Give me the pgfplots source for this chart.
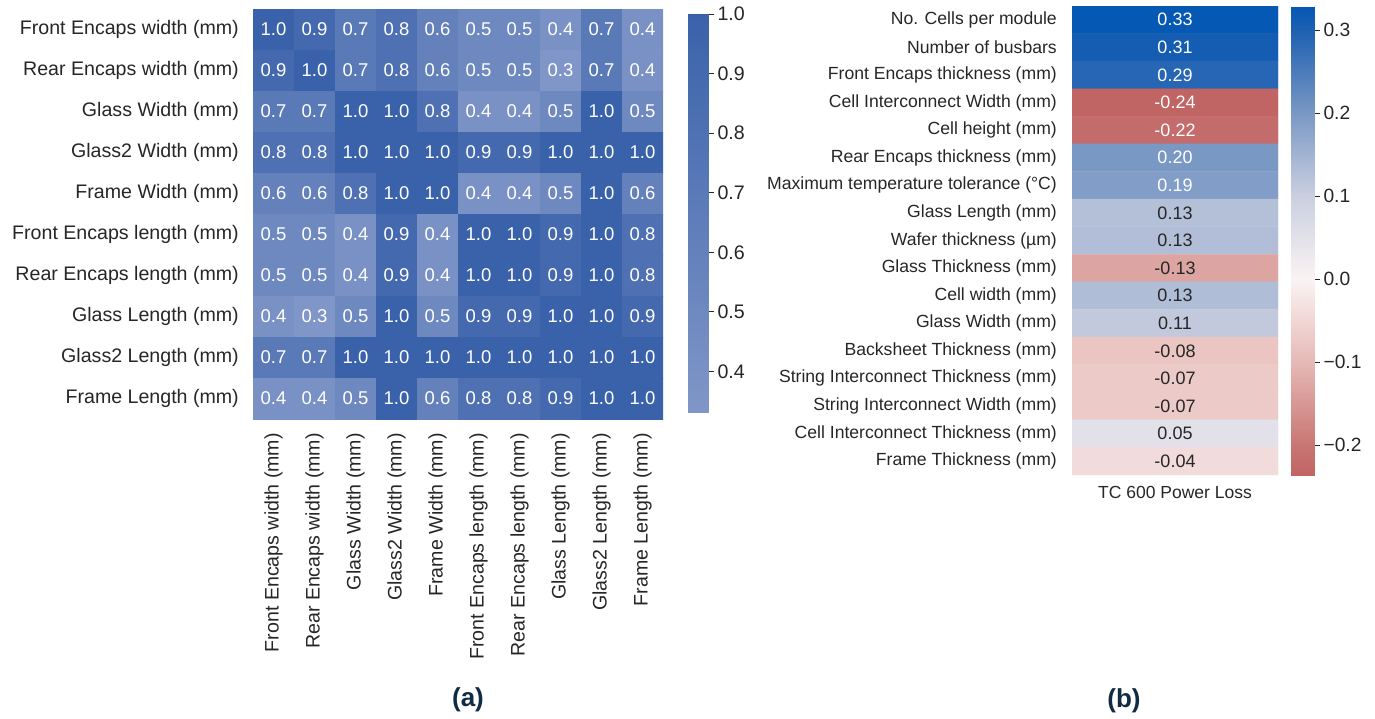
\documentclass[border=0pt]{standalone}
\usepackage{fontspec}
\setmainfont{Liberation Sans}
\usepackage{pgfplots}
\pgfplotsset{compat=1.18}
\definecolor{txt}{RGB}{38,38,38}
\definecolor{navy}{RGB}{18,42,66}
\pgfplotsset{
  colormap={blu}{rgb255=(128,150,200) rgb255=(58,98,170)},
  colormap={rb}{rgb255(0pt)=(192,100,100); rgb255(36pt)=(200,118,115); rgb255(136pt)=(230,185,182); rgb255(236pt)=(250,243,243); rgb255(336pt)=(202,207,224); rgb255(436pt)=(122,152,196); rgb255(536pt)=(30,96,178); rgb255(564pt)=(5,88,180)},
  cbar/.style={scale only axis, anchor=north west, xmin=0, xmax=1,
    axis line style={draw=none}, xtick=\empty,
    ytick pos=right, yticklabel pos=right,
    major tick length=6pt, tick align=outside,
    ytick style={draw=txt, line width=0.9pt}},
}
\begin{document}
\begin{tikzpicture}[x=1pt,y=1pt]
\path[use as bounding box] (0,0) rectangle (1375,-719);
% ---------------- (a) ----------------
\begin{axis}[at={(253pt,-9pt)}, anchor=north west, scale only axis,
  width=410pt, height=410pt,
  xmin=-0.5, xmax=9.5, ymin=-0.5, ymax=9.5, y dir=reverse,
  axis line style={draw=none}, major tick length=0pt, tick style={draw=none},
  xtick={0,...,9}, ytick={0,...,9},
  xticklabels={Front Encaps width (mm),Rear Encaps width (mm),Glass Width (mm),Glass2 Width (mm),Frame Width (mm),Front Encaps length (mm),Rear Encaps length (mm),Glass Length (mm),Glass2 Length (mm),Frame Length (mm)},
  yticklabels={Front Encaps width (mm),Rear Encaps width (mm),Glass Width (mm),Glass2 Width (mm),Frame Width (mm),Front Encaps length (mm),Rear Encaps length (mm),Glass Length (mm),Glass2 Length (mm),Frame Length (mm)},
  xticklabel style={rotate=90, anchor=east, inner sep=0pt, font=\fontsize{19.6}{22}\selectfont, text=txt},
  yticklabel style={anchor=east, inner sep=0pt, font=\fontsize{19.6}{22}\selectfont, text=txt},
  xticklabel shift=14pt, yticklabel shift=14pt,
  colormap name=blu,
  point meta min=0.332, point meta max=1,
  nodes near coords={\pgfmathprintnumber[fixed,fixed zerofill,precision=1,assume math mode=true]{\pgfplotspointmeta}},
  nodes near coords align=center,
  every node near coord/.append style={text=white, font=\fontsize{18.5}{20}\selectfont, anchor=center},
]
\addplot[matrix plot*, mesh/cols=10, point meta=explicit] table[meta=c] {
x y c
0 0 1.0
1 0 0.9
2 0 0.7
3 0 0.8
4 0 0.6
5 0 0.5
6 0 0.5
7 0 0.4
8 0 0.7
9 0 0.4
0 1 0.9
1 1 1.0
2 1 0.7
3 1 0.8
4 1 0.6
5 1 0.5
6 1 0.5
7 1 0.33
8 1 0.7
9 1 0.4
0 2 0.7
1 2 0.7
2 2 1.0
3 2 1.0
4 2 0.8
5 2 0.4
6 2 0.4
7 2 0.5
8 2 1.0
9 2 0.5
0 3 0.8
1 3 0.8
2 3 1.0
3 3 1.0
4 3 1.0
5 3 0.9
6 3 0.9
7 3 1.0
8 3 1.0
9 3 1.0
0 4 0.6
1 4 0.6
2 4 0.8
3 4 1.0
4 4 1.0
5 4 0.4
6 4 0.4
7 4 0.5
8 4 1.0
9 4 0.6
0 5 0.5
1 5 0.5
2 5 0.4
3 5 0.9
4 5 0.4
5 5 1.0
6 5 1.0
7 5 0.9
8 5 1.0
9 5 0.8
0 6 0.5
1 6 0.5
2 6 0.4
3 6 0.9
4 6 0.4
5 6 1.0
6 6 1.0
7 6 0.9
8 6 1.0
9 6 0.8
0 7 0.4
1 7 0.33
2 7 0.5
3 7 1.0
4 7 0.5
5 7 0.9
6 7 0.9
7 7 1.0
8 7 1.0
9 7 0.9
0 8 0.7
1 8 0.7
2 8 1.0
3 8 1.0
4 8 1.0
5 8 1.0
6 8 1.0
7 8 1.0
8 8 1.0
9 8 1.0
0 9 0.4
1 9 0.4
2 9 0.5
3 9 1.0
4 9 0.6
5 9 0.8
6 9 0.8
7 9 0.9
8 9 1.0
9 9 1.0
};
\end{axis}
% colorbar (a)
\begin{axis}[cbar, at={(688pt,-14pt)}, width=20pt, height=398pt,
  ymin=0.332, ymax=1, colormap name=blu, point meta min=0.332, point meta max=1,
  ytick={0.4,0.5,0.6,0.7,0.8,0.9,1.0},
  yticklabels={0.4,0.5,0.6,0.7,0.8,0.9,1.0},
  yticklabel style={font=\fontsize{19.6}{22}\selectfont, text=txt}]
\addplot[surf, shader=interp, mesh/cols=2, point meta=y] coordinates {(0,0.332) (1,0.332) (0,1) (1,1)};
\end{axis}
% ---------------- (b) ----------------
\begin{axis}[at={(1072pt,-6pt)}, anchor=north west, scale only axis,
  width=206pt, height=469pt,
  xmin=-0.5, xmax=1.5, ymin=-0.5, ymax=16.5, y dir=reverse,
  axis line style={draw=none}, major tick length=0pt, tick style={draw=none},
  xtick={0.5}, xticklabels={TC 600 Power Loss},
  xticklabel style={anchor=north, inner sep=0pt, font=\fontsize{17.5}{20}\selectfont, text=txt},
  xticklabel shift=11pt,
  ytick={0,...,16},
  yticklabels={No. Cells per module,Number of busbars,Front Encaps thickness (mm),Cell Interconnect Width (mm),Cell height (mm),Rear Encaps thickness (mm),Maximum temperature tolerance (°C),Glass Length (mm),Wafer thickness (µm),Glass Thickness (mm),Cell width (mm),Glass Width (mm),Backsheet Thickness (mm),String Interconnect Thickness (mm),String Interconnect Width (mm),Cell Interconnect Thickness (mm),Frame Thickness (mm)},
  yticklabel style={anchor=east, inner sep=0pt, font=\fontsize{17.6}{20}\selectfont, text=txt},
  yticklabel shift=15pt,
  colormap name=rb,
  point meta min=-0.236, point meta max=0.328,
]
\addplot[matrix plot*, mesh/cols=2, point meta=explicit] table[meta=c] {
x y c
0 0 0.33
1 0 0.33
0 1 0.31
1 1 0.31
0 2 0.29
1 2 0.29
0 3 -0.24
1 3 -0.24
0 4 -0.22
1 4 -0.22
0 5 0.20
1 5 0.20
0 6 0.19
1 6 0.19
0 7 0.128
1 7 0.128
0 8 0.130
1 8 0.130
0 9 -0.13
1 9 -0.13
0 10 0.133
1 10 0.133
0 11 0.11
1 11 0.11
0 12 -0.08
1 12 -0.08
0 13 -0.07
1 13 -0.07
0 14 -0.07
1 14 -0.07
0 15 0.05
1 15 0.05
0 16 -0.04
1 16 -0.04
};
\addplot[draw=none, point meta=explicit symbolic, nodes near coords, nodes near coords align=center,
  every node near coord/.append style={text=white, font=\fontsize{18}{20}\selectfont, anchor=center}]
  table[meta=t] {
x y t
0.5 0 0.33
0.5 1 0.31
0.5 2 0.29
0.5 3 -0.24
0.5 4 -0.22
0.5 5 0.20
0.5 6 0.19
};
\addplot[draw=none, point meta=explicit symbolic, nodes near coords, nodes near coords align=center,
  every node near coord/.append style={text=txt, font=\fontsize{18}{20}\selectfont, anchor=center}]
  table[meta=t] {
x y t
0.5 7 0.13
0.5 8 0.13
0.5 9 -0.13
0.5 10 0.13
0.5 11 0.11
0.5 12 -0.08
0.5 13 -0.07
0.5 14 -0.07
0.5 15 0.05
0.5 16 -0.04
};
\end{axis}
% colorbar (b)
\begin{axis}[cbar, at={(1291pt,-7pt)}, width=23pt, height=468pt,
  ymin=-0.236, ymax=0.328, colormap name=rb, point meta min=-0.236, point meta max=0.328,
  ytick={-0.2,-0.1,0,0.1,0.2,0.3},
  yticklabels={−0.2,−0.1,0.0,0.1,0.2,0.3},
  yticklabel style={font=\fontsize{19.2}{22}\selectfont, text=txt}]
\addplot[surf, shader=interp, mesh/cols=2, point meta=y] coordinates {(0,-0.236) (1,-0.236) (0,0.328) (1,0.328)};
\end{axis}
\node[font=\bfseries\fontsize{26}{30}\selectfont, text=navy] at (468,-700) {(a)};
\node[font=\bfseries\fontsize{26}{30}\selectfont, text=navy] at (1124,-701) {(b)};
\end{tikzpicture}
\end{document}
